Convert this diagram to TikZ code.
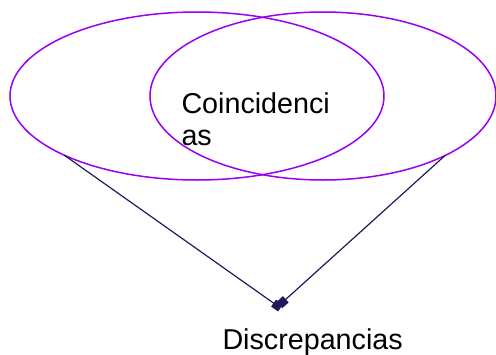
\documentclass[tikz,border=0pt]{standalone}
\usepackage{fontspec}
\setmainfont{Liberation Sans}
\usetikzlibrary{shapes.geometric,arrows.meta}
\definecolor{vennpurple}{RGB}{153,0,240}
\definecolor{linknavy}{RGB}{35,25,90}
\tikzset{
  venn/.style={ellipse, draw=vennpurple, line width=1.5pt, inner sep=0pt, outer sep=0pt},
  link/.style={draw=linknavy, line width=1.2pt, -{Square[length=8.5pt,width=8.5pt]}},
  label/.style={inner sep=0pt, outer sep=0pt, font=\fontsize{28.7}{32}\selectfont}
}
\begin{document}
\begin{tikzpicture}[x=1pt,y=-1pt]
\useasboundingbox (0,0) rectangle (496,354);
\node[venn, minimum width=374pt, minimum height=168pt] (L) at (197,96) {};
\node[venn, minimum width=346pt, minimum height=168pt] (R) at (323,96) {};
\node[label, anchor=base west, align=left] (coinc) at (181.5,145) {Coincidenci\\as};
\node[label, anchor=base west] (disc) at (222.5,349) {Discrepancias};
\coordinate (dl) at (280.5,308);
\coordinate (dr) at (279.5,305);
\draw[link] (L.204.3) -- (dl);
\draw[link] (R.334.7) -- (dr);
\end{tikzpicture}
\end{document}
